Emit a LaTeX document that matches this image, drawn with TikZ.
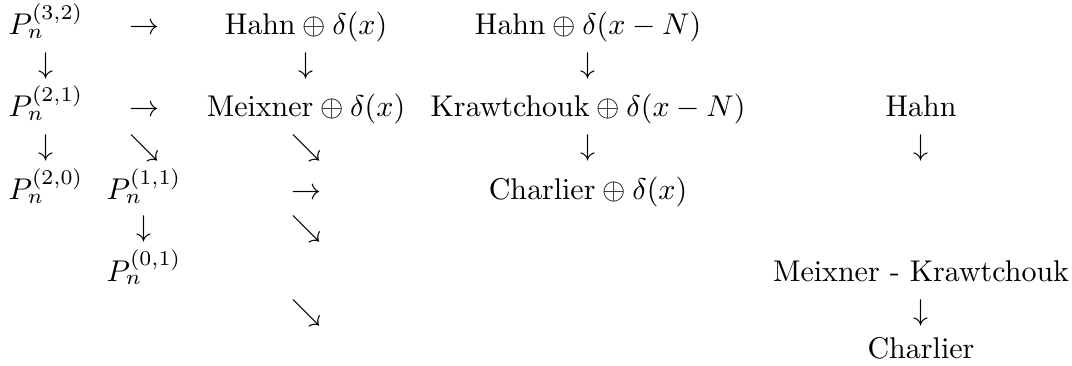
\documentclass[tikz,border=0pt]{standalone}
\begin{document}
\begin{tikzpicture}[x=0.33333pt,y=-0.33333pt,
  t/.style={anchor=base,inner sep=0pt,outer sep=0pt}]
\useasboundingbox (0,0) rectangle (1072,366);
% column centres
\def\ca{46}\def\cb{144}\def\cc{306}\def\cd{588}\def\ce{921}
% row 1
\node[t] (p32) at (\ca,35) {$P_n^{(3,2)}$};
\node[t] (r1a) at (\cb,35) {$\rightarrow$};
\node[t] (hd) at (\cc,35) {$\mathrm{Hahn}\oplus\delta(x)$};
\node[t] (hdn) at (\cd,35) {$\mathrm{Hahn}\oplus\delta(x-N)$};
% row 2
\node[t] (r2a) at (\ca,74) {$\downarrow$};
\node[t] (r2c) at (\cc,74) {$\downarrow$};
\node[t] (r2d) at (\cd,74) {$\downarrow$};
% row 3
\node[t] (p21) at (\ca,117) {$P_n^{(2,1)}$};
\node[t] (r3b) at (\cb,117) {$\rightarrow$};
\node[t] (md) at (\cc,117) {$\mathrm{Meixner}\oplus\delta(x)$};
\node[t] (kdn) at (\cd,117) {$\mathrm{Krawtchouk}\oplus\delta(x-N)$};
\node[t] (h) at (\ce,117) {Hahn};
% row 4
\node[t] (r4a) at (\ca,156) {$\downarrow$};
\node[t] (r4b) at (\cb,156) {$\searrow$};
\node[t] (r4c) at (\cc,156) {$\searrow$};
\node[t] (r4d) at (\cd,156) {$\downarrow$};
\node[t] (r4e) at (\ce,156) {$\downarrow$};
% row 5
\node[t] (p20) at (\ca,200) {$P_n^{(2,0)}$};
\node[t] (p11) at (\cb,200) {$P_n^{(1,1)}$};
\node[t] (r5c) at (\cc,200) {$\rightarrow$};
\node[t] (cd) at (\cd,200) {$\mathrm{Charlier}\oplus\delta(x)$};
% row 6
\node[t] (r6b) at (\cb,237) {$\downarrow$};
\node[t] (r6c) at (\cc,237) {$\searrow$};
% row 7
\node[t] (p01) at (\cb,281) {$P_n^{(0,1)}$};
\node[t] (mk) at (\ce,281) {Meixner - Krawtchouk};
% row 8
\node[t] (r8c) at (\cc,320) {$\searrow$};
\node[t] (r8e) at (\ce,320) {$\downarrow$};
% row 9
\node[t] (ch) at (\ce,358) {Charlier};
\end{tikzpicture}
\end{document}
